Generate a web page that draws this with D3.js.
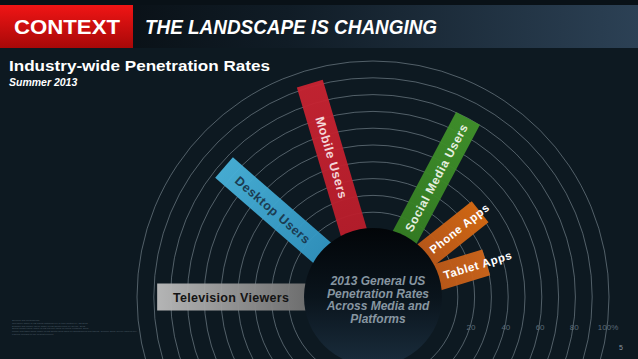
<!DOCTYPE html>
<html lang="en">
<head>
  <meta charset="utf-8" />
  <title>Industry-wide Penetration Rates</title>
  <script src="https://d3js.org/d3.v7.min.js"></script>
  <style>
    html, body { margin: 0; padding: 0; background: #0d1921; }
    svg { display: block; font-family: "Liberation Sans", Arial, sans-serif; }
  </style>
</head>
<body>
<div id="chart"></div>

<script>
    // data
    var categories = ["Television Viewers", "Desktop Users", "Mobile Users", "Social Media Users", "Phone Apps", "Tablet Apps"];
    var values = [88, 77, 92, 80, 41, 30];          // % penetration
    var angles = [180, 139, 106.5, 62, 38.5, 17];    // degrees, counter-clockwise from east
    var ticks = [20, 40, 60, 80, 100];
    var tickLabels = ["20", "40", "60", "80", "100%"];
    var gridSteps = [10, 20, 30, 40, 50, 60, 70, 80, 90, 100];
    var centerLines = ["2013 General US", "Penetration Rates", "Across Media and", "Platforms"];
    var notes = [
      "Sources and methodology",
      "Television: share of US adults watching live or time-shifted TV, Q2 2013",
      "Desktop and mobile users: share of US adults online by device, 2013",
      "Social media users: share of US internet users on social networks, 2013",
      "Phone and tablet apps: share of US adults using apps on smartphones and tablets, summer 2013, device owners only",
      "Figures rounded to the nearest percent"
    ];

    var W = 638, H = 359;
    var cx = 373, cy = 297;
    var barW = 27;

    var svg = d3.select("#chart").append("svg").attr("width", W).attr("height", H);
    var defs = svg.append("defs");

    var colors = [
      ["#6a6a6a", "#bdbdbd"],
      ["#48b2da", "#2f92bf"],
      ["#c92331", "#b81c2a"],
      ["#40922a", "#347d22"],
      ["#d86a12", "#b9561a"],
      ["#d0661a", "#b95617"]
    ];
    colors.forEach(function(c, i) {
      var g = defs.append("linearGradient").attr("id", "bar" + i)
        .attr("x1", "0").attr("x2", "1").attr("y1", "0").attr("y2", "0");
      // gradient from outer end (left for rotated text) to centre
      g.append("stop").attr("offset", "0").attr("stop-color", i === 0 ? c[0] : c[1]);
      g.append("stop").attr("offset", "1").attr("stop-color", i === 0 ? c[1] : c[0]);
    });

    var hdr = defs.append("linearGradient").attr("id", "hdr");
    hdr.append("stop").attr("offset", "0").attr("stop-color", "#05090c");
    hdr.append("stop").attr("offset", "0.45").attr("stop-color", "#101c26");
    hdr.append("stop").attr("offset", "1").attr("stop-color", "#2c4155");

    var red = defs.append("linearGradient").attr("id", "red").attr("x1", 0).attr("x2", 0).attr("y1", 0).attr("y2", 1);
    red.append("stop").attr("offset", "0").attr("stop-color", "#f01515");
    red.append("stop").attr("offset", "1").attr("stop-color", "#a80808");

    var hub = defs.append("linearGradient").attr("id", "hub").attr("x1", 0).attr("x2", 0).attr("y1", 0).attr("y2", 1);
    hub.append("stop").attr("offset", "0").attr("stop-color", "#020508");
    hub.append("stop").attr("offset", "0.5").attr("stop-color", "#0a141c");
    hub.append("stop").attr("offset", "1").attr("stop-color", "#1a2d3d");

    // background
    svg.append("rect").attr("width", W).attr("height", H).attr("fill", "#0d1921");
    svg.append("rect").attr("width", W).attr("height", 5).attr("fill", "#091117");
    svg.append("rect").attr("y", 5).attr("width", W).attr("height", 43).attr("fill", "url(#hdr)");
    svg.append("rect").attr("y", 5).attr("width", 133).attr("height", 43).attr("fill", "url(#red)");

    svg.append("text").attr("x", 14).attr("y", 34)
      .attr("fill", "#fff").attr("font-weight", "bold").attr("font-size", 20)
      .attr("textLength", 106).attr("lengthAdjust", "spacingAndGlyphs")
      .text("CONTEXT");
    svg.append("text").attr("x", 145).attr("y", 34)
      .attr("fill", "#fff").attr("font-weight", "bold").attr("font-style", "italic").attr("font-size", 20)
      .attr("textLength", 292).attr("lengthAdjust", "spacingAndGlyphs")
      .text("THE LANDSCAPE IS CHANGING");

    svg.append("text").attr("x", 9).attr("y", 71)
      .attr("fill", "#fff").attr("font-weight", "bold").attr("font-size", 14.5)
      .attr("textLength", 261).attr("lengthAdjust", "spacingAndGlyphs")
      .text("Industry-wide Penetration Rates");
    svg.append("text").attr("x", 9).attr("y", 86)
      .attr("fill", "#fff").attr("font-weight", "bold").attr("font-style", "italic").attr("font-size", 10.5)
      .text("Summer 2013");

    var r = d3.scaleLinear().domain([0, 100]).range([68, 236]);

    var plot = svg.append("g").attr("transform", "translate(" + cx + "," + cy + ")");

    // grid circles
    plot.selectAll("circle.grid").data(gridSteps).enter().append("circle")
      .attr("class", "grid")
      .attr("r", function(d) { return r(d); })
      .attr("fill", "none").attr("stroke", "#8e9ca6").attr("stroke-opacity", 0.6).attr("stroke-width", 0.9);

    // bars
    var bars = plot.selectAll("g.bar").data(categories).enter().append("g")
      .attr("class", "bar")
      .attr("transform", function(d, i) { return "rotate(" + (-angles[i]) + ")"; });

    var inner = 50;
    bars.append("rect")
      .attr("x", inner)
      .attr("y", -barW / 2)
      .attr("width", function(d, i) { return r(values[i]) - inner; })
      .attr("height", barW)
      .attr("fill", function(d, i) { return "url(#bar" + i + ")"; })
      .attr("fill-opacity", 0.95);

    // hub
    plot.append("circle").attr("r", 69).attr("fill", "url(#hub)");

    var labelColors = ["#141414", "#1b3c52", "#f3d6d8", "#e6efe0", "#ffffff", "#ffffff"];
    var labelSizes = [12.5, 12.5, 12.5, 12, 11.5, 11.5];

    bars.each(function(d, i) {
      var g = d3.select(this);
      var flip = angles[i] > 90;
      var len = r(values[i]) - r(0);
      var mid = r(0) + len / 2;
      var t = g.append("text")
        .attr("fill", labelColors[i])
        .attr("font-weight", "bold")
        .attr("font-size", labelSizes[i])
        .attr("letter-spacing", i === 0 ? 0.3 : 0.6)
        .attr("dy", "0.36em")
        .text(d);
      var tl = t.node().getComputedTextLength();
      var pos = mid, anchor = "middle";
      if (tl > len - 10) { pos = r(0) + 6; anchor = flip ? "end" : "start"; }
      t.attr("text-anchor", anchor)
        .attr("transform", flip ? "translate(" + pos + ",0) rotate(180)" : "translate(" + pos + ",0)");
    });

    // center text
    plot.selectAll("text.hub").data(centerLines).enter().append("text")
      .attr("class", "hub")
      .attr("x", 5)
      .attr("y", function(d, i) { return -12 + i * 12.5; })
      .attr("text-anchor", "middle")
      .attr("fill", "#8796a1")
      .attr("font-weight", "bold").attr("font-style", "italic").attr("font-size", 12)
      .text(function(d) { return d; });

    // scale labels along the arcs
    var ly = 30;
    plot.selectAll("text.tick").data(ticks).enter().append("text")
      .attr("class", "tick")
      .attr("x", function(d) { return Math.sqrt(r(d) * r(d) - ly * ly) + 1; })
      .attr("y", ly + 3)
      .attr("text-anchor", "middle")
      .attr("fill", "#5c6b77")
      .attr("font-size", 8)
      .text(function(d, i) { return tickLabels[i]; });

    // footnotes
    svg.selectAll("text.note").data(notes).enter().append("text")
      .attr("class", "note")
      .attr("x", 12)
      .attr("y", function(d, i) { return 321 + i * 2.8; })
      .attr("fill", "#4f5e69")
      .attr("font-size", 2.4)
      .text(function(d) { return d; });

    svg.append("text").attr("x", 619).attr("y", 350)
      .attr("fill", "#8a96a0").attr("font-size", 7).text("5");
</script>

</body>
</html>
